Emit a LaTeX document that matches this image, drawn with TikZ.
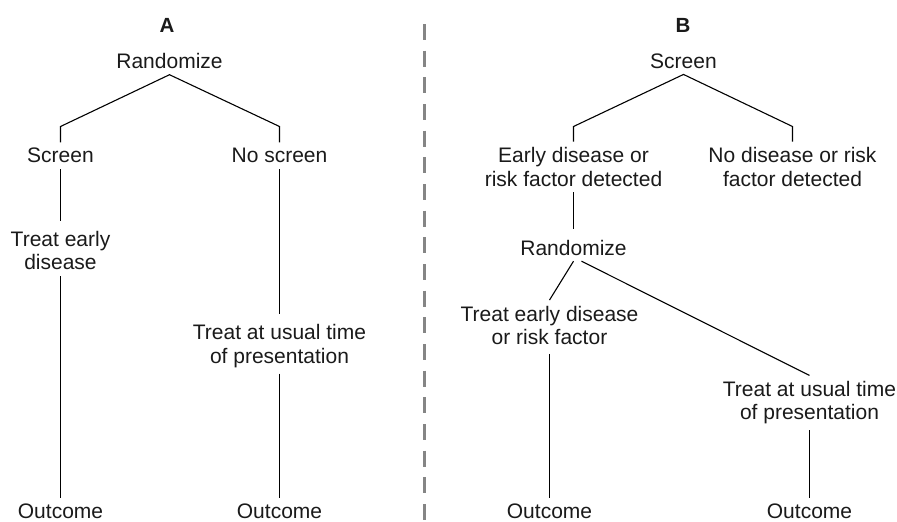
\documentclass[tikz,border=0pt]{standalone}
\usepackage{fontspec}
\setmainfont{Liberation Sans}
\definecolor{txt}{HTML}{1A1A1A}
\definecolor{divgray}{HTML}{858585}
\begin{document}
\begin{tikzpicture}[x=1pt,y=-1pt,
  lbl/.style={font=\fontsize{21}{23.3}\selectfont, text=txt, inner sep=0pt, outer sep=6pt, align=center},
  ttl/.style={font=\bfseries\fontsize{20.5}{22}\selectfont, text=txt, inner sep=0pt},
  conn/.style={draw=black, line width=1.1pt},
  divider/.style={draw=divgray, line width=2.6pt, dash pattern=on 16pt off 10.67pt}]
\useasboundingbox (0,0) rectangle (897,522);

% ---------- Panel A ----------
\node[ttl] (tA) at (167,25.5) {A};
\node[lbl] (RA) at (169.5,61) {Randomize};
\node[lbl] (ScrA) at (60.5,155.7) {Screen};
\node[lbl] (NoScrA) at (279.5,155.7) {No screen};
\node[lbl] (TEA) at (60.5,250.7) {Treat early\\disease};
\node[lbl] (TUA) at (279.5,346.2) {Treat at usual time\\of presentation};
\node[lbl] (OA1) at (60.5,511) {Outcome};
\node[lbl] (OA2) at (279.5,511) {Outcome};
\coordinate (cLA) at (60.5,126.5);
\coordinate (cRA) at (279.5,126.5);

\draw[conn] (ScrA) -- (cLA) -- (RA.south) -- (cRA) -- (NoScrA);
\draw[conn, shorten >=4pt] (ScrA) -- (TEA);
\draw[conn] (TEA) -- (OA1);
\draw[conn, shorten >=5pt] (NoScrA) -- (TUA);
\draw[conn] (TUA) -- (OA2);

% ---------- divider ----------
\coordinate (dtop) at (424.5,24);
\coordinate (dbot) at (424.5,524);
\draw[divider] (dtop) -- (dbot);

% ---------- Panel B ----------
\node[ttl] (tB) at (683,25.5) {B};
\node[lbl] (ScrB) at (683.5,61) {Screen};
\node[lbl] (EDB) at (573.5,167) {Early disease or\\risk factor detected};
\node[lbl] (NDB) at (792.5,167) {No disease or risk\\factor detected};
\node[lbl] (RB) at (573.5,247.5) {Randomize};
\node[lbl] (TEB) at (549.5,325.4) {Treat early disease\\or risk factor};
\node[lbl] (TUB) at (809.5,402.9) {Treat at usual time\\of presentation};
\node[lbl] (OB1) at (549.5,511) {Outcome};
\node[lbl] (OB2) at (809.5,511) {Outcome};
\coordinate (cLB) at (573.5,126.5);
\coordinate (cRB) at (792.5,126.5);

\draw[conn] (EDB) -- (cLB) -- (ScrB.south) -- (cRB) -- (NDB);
\draw[conn, shorten >=5pt] (EDB) -- (RB);
\draw[conn] (RB.south) -- (TEB.north);
\draw[conn] ([xshift=8pt]RB.south) -- (TUB.north);
\draw[conn, shorten <=3pt] (TEB) -- (OB1);
\draw[conn] (TUB) -- (OB2);
\end{tikzpicture}
\end{document}
